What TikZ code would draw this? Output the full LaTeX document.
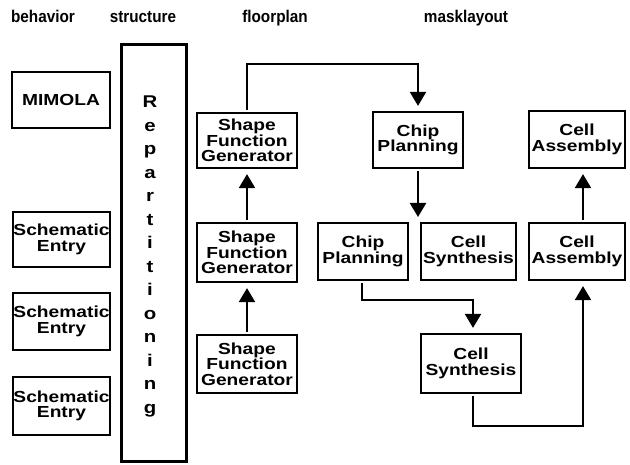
\documentclass[tikz,border=0pt]{standalone}
\usepackage{fontspec}
\setmainfont{Liberation Sans}
\newfontfamily\boxfont{Liberation Sans}[FakeStretch=1.2]
\newfontfamily\titlefont{Liberation Sans}[FakeStretch=0.9]
\usetikzlibrary{arrows.meta}
\begin{document}
\begin{tikzpicture}[x=1pt,y=-1pt,
  box/.style={draw, line width=2.2pt, align=center, inner sep=0pt,
    font=\boxfont\bfseries\fontsize{16}{15.5}\selectfont},
  letter/.style={anchor=base, inner sep=0pt, font=\boxfont\bfseries\fontsize{17}{17}\selectfont},
  title/.style={anchor=base, inner sep=0pt, font=\titlefont\bfseries\fontsize{17}{17}\selectfont},
  arr/.style={line width=2.2pt, -{Triangle[width=16pt,length=14pt]}, shorten >=5pt, shorten <=2pt}]
\useasboundingbox (0,0) rectangle (630,465);
% titles
\node[title] (t1) at (43,23) {behavior};
\node[title] (t2) at (143,23) {structure};
\node[title] (t3) at (275,23) {floorplan};
\node[title] (t4) at (466,23) {masklayout};
% behavior column
\node[box, minimum width=98pt, minimum height=56pt] (mimola) at (61,100) {MIMOLA};
\node[box, minimum width=97pt, minimum height=55pt] (se1) at (61.5,239.5) {Schematic\\Entry};
\node[box, minimum width=97pt, minimum height=57pt] (se2) at (61.5,321.5) {Schematic\\Entry};
\node[box, minimum width=97pt, minimum height=58pt] (se3) at (61.5,406) {Schematic\\Entry};
% repartitioning
\node[draw, line width=2.2pt, minimum width=65pt, minimum height=417pt, inner sep=0pt] (rep) at (154,253) {};
\foreach \l [count=\i from 0] in {R,e,p,a,r,t,i,t,i,o,n,i,n,g}
  \node[letter] (rl\i) at (150,{108+23.5*\i}) {\l};
% floorplan
\node[box, minimum width=100pt, minimum height=55pt] (sfg1) at (247,140.5) {Shape\\Function\\Generator};
\node[box, minimum width=100pt, minimum height=59pt] (sfg2) at (247,252.5) {Shape\\Function\\Generator};
\node[box, minimum width=100pt, minimum height=58pt] (sfg3) at (247,364) {Shape\\Function\\Generator};
\node[box, minimum width=90pt, minimum height=56pt] (cp1) at (418,140) {Chip\\Planning};
\node[box, minimum width=90pt, minimum height=57pt] (cp2) at (363,251.5) {Chip\\Planning};
\node[box, minimum width=95pt, minimum height=57pt] (cs1) at (468.5,251.5) {Cell\\Synthesis};
\node[box, minimum width=100pt, minimum height=59pt] (cs2) at (471,363.5) {Cell\\Synthesis};
% masklayout
\node[box, minimum width=96pt, minimum height=57pt] (ca1) at (577,139.5) {Cell\\Assembly};
\node[box, minimum width=96pt, minimum height=57pt] (ca2) at (577,251.5) {Cell\\Assembly};
% helper coordinates
\coordinate (cpend) at (418,222);
\coordinate (caX) at (583,0);
\coordinate (cpX) at (362,0);
\coordinate (csX) at (473,0);
\coordinate (yA) at (0,300);
\coordinate (yB) at (0,426);
% connectors
\draw[arr] (sfg3) -- (sfg2);
\draw[arr] (sfg2) -- (sfg1);
\draw[arr] (sfg1.north) -- ++(0,-48) -| (cp1.north);
\draw[arr] (cp1.south) -- (cpend);
\draw[arr] (caX |- ca2.north) -- (caX |- ca1.south);
\draw[arr] (cpX |- cp2.south) -- (cpX |- yA) -| (csX |- cs2.north);
\draw[arr] (csX |- cs2.south) -- (csX |- yB) -| (caX |- ca2.south);
\end{tikzpicture}
\end{document}
